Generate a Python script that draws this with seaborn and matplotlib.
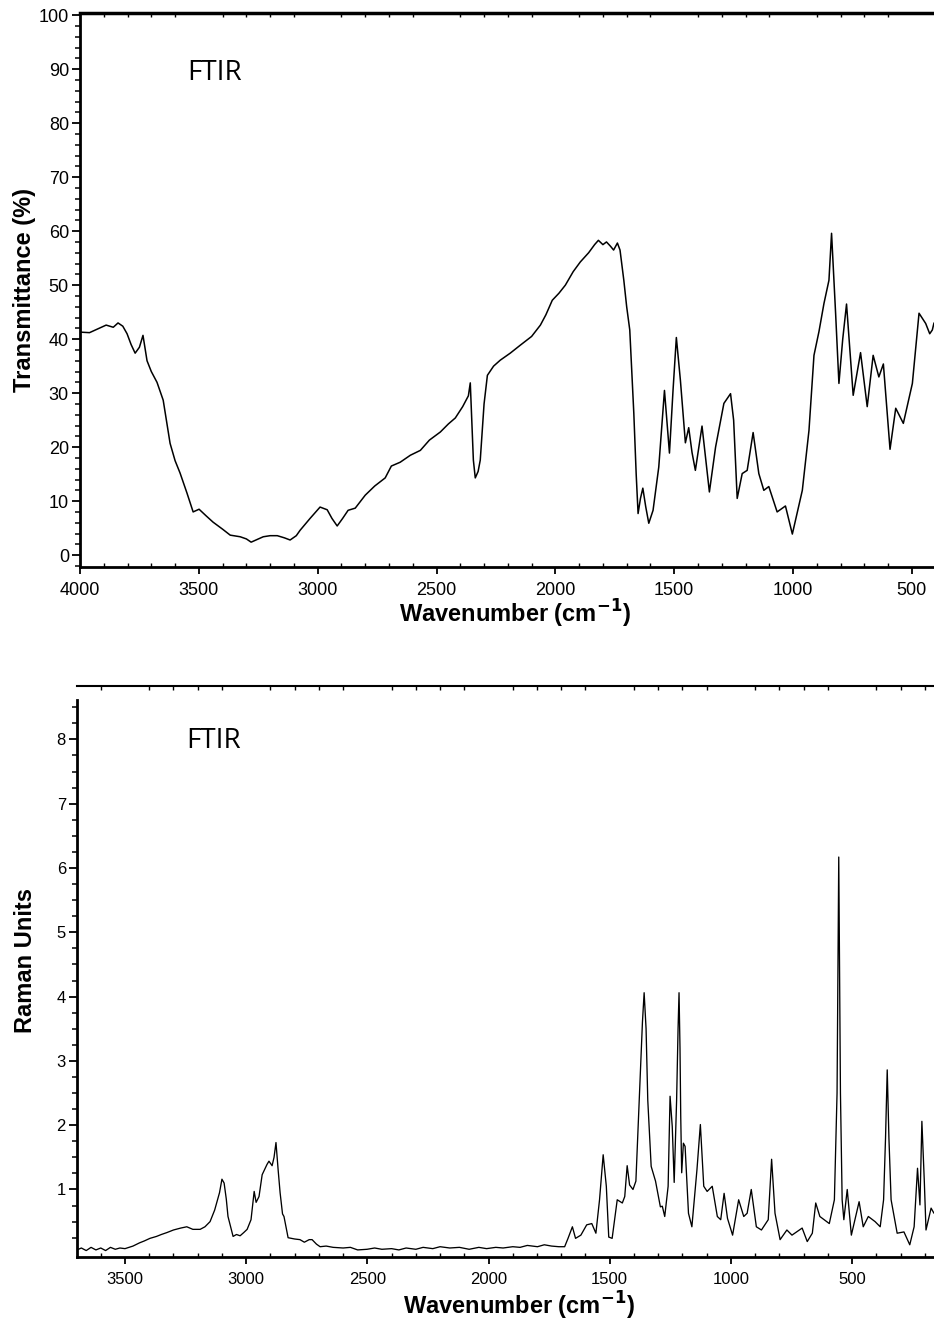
import matplotlib
matplotlib.use("Agg")
import matplotlib.pyplot as plt
from matplotlib import font_manager
from matplotlib.ticker import MultipleLocator, FixedLocator
import seaborn as sns
import pandas as pd

# ---------------- data ----------------
ftir_wn = [4000, 3960, 3920, 3890, 3860, 3840, 3820, 3802, 3785, 3768, 3750, 3735, 3718, 3700,
           3676, 3650, 3621, 3600, 3579, 3550, 3524, 3499, 3470, 3440, 3400, 3368, 3326, 3300,
           3280, 3250, 3229, 3200, 3170, 3140, 3116, 3090, 3074, 3032, 2990, 2960, 2940, 2918,
           2895, 2872, 2842, 2800, 2760, 2716, 2690, 2653, 2610, 2568, 2530, 2484, 2450, 2421,
           2390, 2366, 2358, 2345, 2337, 2325, 2316, 2300, 2286, 2260, 2232, 2190, 2147, 2100,
           2063, 2040, 2013, 1985, 1958, 1925, 1895, 1860, 1835, 1819, 1800, 1785, 1768, 1755,
           1739, 1728, 1718, 1712, 1700, 1687, 1670, 1660, 1652, 1642, 1632, 1620, 1607, 1589,
           1565, 1541, 1520, 1505, 1491, 1474, 1453, 1439, 1425, 1411, 1383, 1352, 1326, 1291,
           1263, 1250, 1235, 1214, 1193, 1168, 1144, 1123, 1102, 1067, 1032, 1003, 961, 933,
           912, 891, 870, 849, 838, 821, 807, 791, 775, 747, 716, 688, 663, 639, 620, 592, 568,
           536, 498, 470, 442, 425, 414, 407]
ftir_t = [41.3, 41.2, 42.0, 42.6, 42.2, 43.0, 42.4, 41.0, 39.0, 37.4, 38.5, 40.7, 36.0, 34.0,
          32.0, 28.7, 20.7, 17.5, 15.2, 11.5, 8.0, 8.5, 7.3, 6.1, 4.8, 3.7, 3.4, 3.0,
          2.4, 3.0, 3.4, 3.6, 3.6, 3.2, 2.8, 3.6, 4.6, 6.8, 8.9, 8.4, 6.8, 5.4,
          6.8, 8.3, 8.7, 11.1, 12.8, 14.3, 16.5, 17.2, 18.5, 19.4, 21.3, 22.8, 24.3, 25.4,
          27.5, 29.5, 31.9, 17.6, 14.3, 15.5, 17.6, 28.0, 33.3, 35.0, 36.1, 37.4, 38.9, 40.5,
          42.6, 44.5, 47.2, 48.5, 50.0, 52.5, 54.3, 56.0, 57.5, 58.3, 57.5, 58.0, 57.2, 56.5,
          57.8, 56.5, 53.1, 50.9, 46.0, 41.7, 26.3, 15.0, 7.7, 10.5, 12.4, 9.0, 5.9, 8.3,
          16.3, 30.5, 18.9, 30.5, 40.3, 32.4, 20.8, 23.6, 19.0, 15.7, 23.9, 11.7, 20.0, 28.1,
          29.9, 25.0, 10.5, 15.1, 15.7, 22.7, 15.1, 12.0, 12.7, 8.0, 9.1, 3.9, 12.0, 23.1,
          37.0, 41.4, 46.6, 50.9, 59.6, 44.8, 31.8, 40.0, 46.5, 29.6, 37.5, 27.5, 37.0, 33.0,
          35.4, 19.6, 27.2, 24.4, 31.8, 44.8, 42.9, 41.0, 41.7, 43.0]

raman_wn = [3698, 3680, 3660, 3640, 3620, 3600, 3580, 3560, 3540, 3521, 3500, 3467, 3440, 3420,
            3397, 3370, 3350, 3327, 3300, 3270, 3245, 3220, 3190, 3170, 3149, 3130, 3121, 3110,
            3100, 3091, 3082, 3075, 3054, 3040, 3025, 3010, 2996, 2980, 2967, 2959, 2947, 2934,
            2914, 2906, 2893, 2885, 2877, 2868, 2860, 2850, 2844, 2827, 2800, 2778, 2760, 2740,
            2728, 2710, 2695, 2670, 2641, 2600, 2570, 2540, 2501, 2470, 2440, 2400, 2370, 2340,
            2300, 2270, 2230, 2200, 2160, 2120, 2080, 2040, 2008, 1970, 1940, 1900, 1870, 1840,
            1798, 1770, 1740, 1710, 1686, 1672, 1654, 1641, 1619, 1595, 1574, 1557, 1542, 1527,
            1514, 1504, 1490, 1469, 1448, 1438, 1428, 1418, 1404, 1392, 1378, 1365, 1358, 1350,
            1343, 1329, 1311, 1291, 1283, 1273, 1259, 1251, 1242, 1234, 1224, 1218, 1214, 1210,
            1207, 1203, 1196, 1189, 1175, 1161, 1140, 1126, 1112, 1098, 1077, 1056, 1042, 1028,
            1014, 993, 968, 947, 933, 916, 895, 874, 846, 832, 818, 797, 769, 748, 706, 685,
            664, 650, 633, 594, 573, 562, 555, 548, 541, 534, 520, 503, 471, 454, 433, 405,
            384, 370, 362, 355, 348, 339, 314, 286, 262, 244, 230, 220, 212, 202, 195, 174, 162]
raman_i = [0.06, 0.09, 0.05, 0.10, 0.06, 0.09, 0.05, 0.10, 0.07, 0.09, 0.08, 0.12, 0.17, 0.20,
           0.24, 0.27, 0.30, 0.33, 0.37, 0.40, 0.42, 0.38, 0.38, 0.42, 0.50, 0.68, 0.80, 0.95,
           1.16, 1.10, 0.85, 0.58, 0.27, 0.30, 0.28, 0.33, 0.38, 0.53, 0.97, 0.80, 0.89, 1.23,
           1.39, 1.44, 1.37, 1.50, 1.73, 1.30, 0.95, 0.62, 0.58, 0.25, 0.23, 0.22, 0.18, 0.22,
           0.22, 0.15, 0.11, 0.12, 0.10, 0.09, 0.10, 0.06, 0.07, 0.09, 0.07, 0.08, 0.06, 0.09,
           0.07, 0.10, 0.08, 0.11, 0.09, 0.10, 0.07, 0.10, 0.08, 0.10, 0.09, 0.11, 0.10, 0.13,
           0.11, 0.14, 0.12, 0.11, 0.11, 0.24, 0.42, 0.24, 0.29, 0.45, 0.47, 0.32, 0.84, 1.54,
           1.05, 0.26, 0.24, 0.84, 0.79, 0.89, 1.37, 1.07, 1.00, 1.13, 2.39, 3.60, 4.06, 3.50,
           2.39, 1.36, 1.13, 0.73, 0.74, 0.58, 1.05, 2.45, 1.98, 1.11, 2.39, 3.50, 4.06, 3.20,
           2.14, 1.26, 1.72, 1.67, 0.63, 0.42, 1.31, 2.01, 1.05, 0.97, 1.05, 0.58, 0.53, 0.94,
           0.55, 0.29, 0.84, 0.58, 0.63, 1.00, 0.42, 0.37, 0.53, 1.47, 0.63, 0.22, 0.37, 0.29, 0.40, 0.19,
           0.32, 0.79, 0.58, 0.47, 0.84, 2.50, 6.17, 2.50, 0.84, 0.53, 1.00, 0.29, 0.81, 0.42, 0.58, 0.50,
           0.42, 0.84, 1.80, 2.86, 1.80, 0.84, 0.32, 0.34, 0.14, 0.42, 1.33, 0.76, 2.06, 1.13, 0.37, 0.71, 0.63]

top_yticks = [0, 10, 20, 30, 40, 50, 60, 70, 80, 90, 100]
top_xticks = [4000, 3500, 3000, 2500, 2000, 1500, 1000, 500]
bot_yticks = [1, 2, 3, 4, 5, 6, 7, 8]
bot_xticks = [3500, 3000, 2500, 2000, 1500, 1000, 500]

# ---------------- style ----------------
sns.set_theme(style="ticks")
names = {f.name for f in font_manager.fontManager.ttflist}
tick_font = "Liberation Sans Narrow" if "Liberation Sans Narrow" in names else "Liberation Sans"
plt.rcParams["font.family"] = ["Liberation Sans", "DejaVu Sans"]

fig = plt.figure(figsize=(9.34, 13.31), dpi=100)
ax1 = fig.add_axes([80 / 934, 1 - 567 / 1331, 1 - 80 / 934, (567 - 13) / 1331])
ax2 = fig.add_axes([77 / 934, 1 - 1257 / 1331, 1 - 77 / 934, (1257 - 686) / 1331])

df1 = pd.DataFrame({"wn": ftir_wn, "T": ftir_t})
df2 = pd.DataFrame({"wn": raman_wn, "I": raman_i})
sns.lineplot(data=df1, x="wn", y="T", ax=ax1, color="black", lw=1.1, sort=False, estimator=None)
sns.lineplot(data=df2, x="wn", y="I", ax=ax2, color="black", lw=0.95, sort=False, estimator=None)

ax1.set_xlim(4000, 407)
ax1.set_ylim(-2.2, 100.4)
ax2.set_xlim(3698, 162)
ax2.set_ylim(-0.05, 8.83)

for ax in (ax1, ax2):
    ax.spines["right"].set_visible(False)
    for s in ("left", "bottom"):
        ax.spines[s].set_linewidth(2.0)
        ax.spines[s].set_color("black")
    ax.spines["top"].set_color("black")
ax1.spines["top"].set_linewidth(2.5)
ax2.spines["top"].set_linewidth(1.5)
ax2.spines["left"].set_bounds(-0.05, 8.62)

ax1.set_yticks(top_yticks)
ax1.yaxis.set_minor_locator(MultipleLocator(2))
ax1.set_xticks(top_xticks)
ax1.xaxis.set_minor_locator(MultipleLocator(100))
ax2.set_yticks(bot_yticks)
ax2.yaxis.set_minor_locator(FixedLocator([0.25 * k for k in range(1, 35)]))
ax2.set_xticks(bot_xticks)
ax2.xaxis.set_minor_locator(MultipleLocator(100))

for ax, fs in ((ax1, 13), (ax2, 12)):
    ax.tick_params(axis="y", which="major", direction="out", length=6, width=1.3, color="black",
                   labelsize=fs, pad=2)
    ax.tick_params(axis="y", which="minor", direction="out", length=3.5, width=1.1, color="black")
    ax.tick_params(axis="x", which="major", direction="out", length=5, width=1.3, color="black",
                   labelsize=fs, pad=6, top=False)
    ax.tick_params(axis="x", which="minor", direction="in", length=3, width=1.0, color="black",
                   top=True, bottom=True)
    for lab in ax.get_xticklabels() + ax.get_yticklabels():
        lab.set_fontfamily(tick_font)
        lab.set_color("black")

lbl = dict(fontsize=17, fontweight="bold", color="black")
ax1.set_xlabel("Wavenumber (cm$^{\\mathbf{-1}}$)", **lbl)
ax1.set_ylabel("Transmittance (%)", **lbl)
ax2.set_xlabel("Wavenumber (cm$^{\\mathbf{-1}}$)", **lbl)
ax2.set_ylabel("Raman Units", **lbl)
ax1.xaxis.set_label_coords(0.509, -0.056)
ax1.yaxis.set_label_coords(-0.0515, 0.5)
ax2.xaxis.set_label_coords(0.516, -0.058)
ax2.yaxis.set_label_coords(-0.047, 0.52)

ax1.text(0.125, 0.892, "FTIR", transform=ax1.transAxes, fontsize=20, va="center", ha="left",
         family=["Open Sans", "DejaVu Sans"], color="black")
ax2.text(0.128, 0.904, "FTIR", transform=ax2.transAxes, fontsize=20, va="center", ha="left",
         family=["Open Sans", "DejaVu Sans"], color="black")

fig.savefig("out.png", dpi=100, facecolor="white")
